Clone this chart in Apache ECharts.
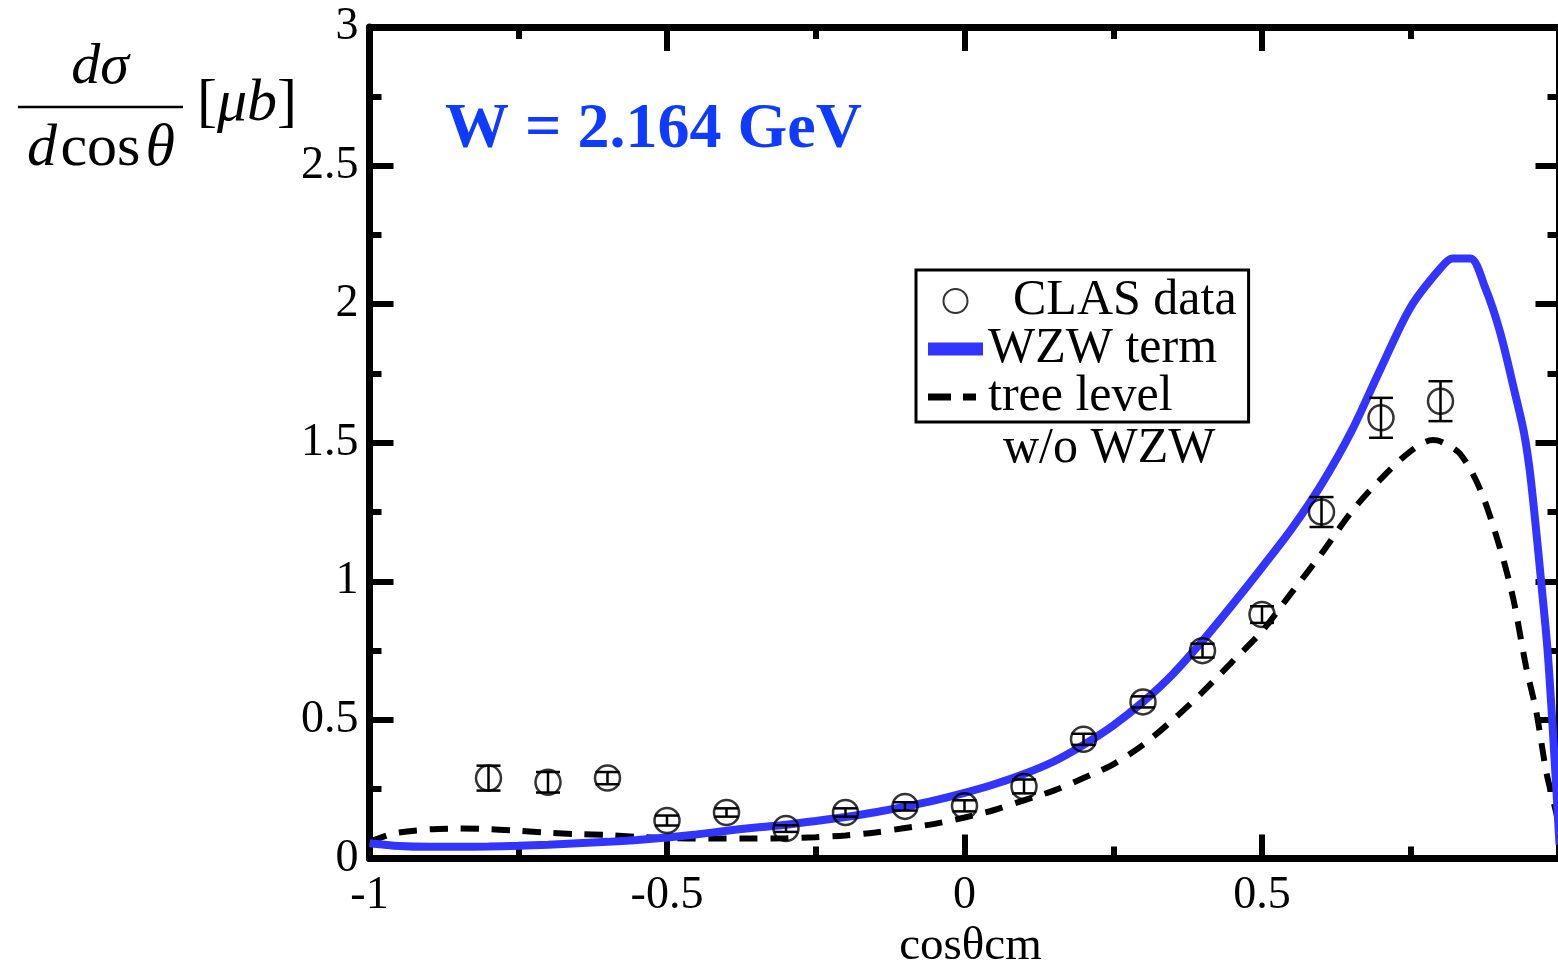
<!DOCTYPE html>
<html>
<head>
<meta charset="utf-8">
<script src="https://cdn.jsdelivr.net/npm/echarts@6/dist/echarts.min.js"></script>
<style>
  html, body { margin: 0; padding: 0; background: #fff; }
  #chart { width: 1558px; height: 960px; }
</style>
</head>
<body>
<div id="chart"></div>
<script>
// Differential cross section vs cos(theta_cm) at W = 2.164 GeV

// CLAS measurements: cos(theta), dsigma/dcos(theta) [ub], error
const clasX   = [-0.8, -0.7, -0.6, -0.5, -0.4, -0.3, -0.2, -0.1, 0.0, 0.1, 0.2, 0.3, 0.4, 0.5, 0.6, 0.7, 0.8];
const clasY   = [0.29, 0.275, 0.29, 0.137, 0.166, 0.108, 0.166, 0.188, 0.19, 0.26, 0.43, 0.565, 0.75, 0.88, 1.25, 1.59, 1.65];
const clasErr = [0.045, 0.037, 0.022, 0.018, 0.015, 0.012, 0.015, 0.015, 0.02, 0.025, 0.02, 0.02, 0.025, 0.03, 0.054, 0.072, 0.072];

// Model with WZW term
const wzwX = [-1.0, -0.95, -0.9, -0.85, -0.8, -0.75, -0.7, -0.65, -0.6, -0.55, -0.5, -0.45, -0.4, -0.35, -0.3, -0.25, -0.2, -0.15, -0.1, -0.05,
              0.0, 0.05, 0.1, 0.15, 0.2, 0.25, 0.3, 0.35, 0.4, 0.45, 0.5, 0.55, 0.6, 0.65, 0.7, 0.75, 0.8, 0.82, 0.85, 0.875, 0.9, 0.925, 0.94, 0.95, 0.96, 0.97, 0.98, 0.99, 1.0];
const wzwY = [0.055, 0.045, 0.042, 0.042, 0.043, 0.046, 0.05, 0.055, 0.06, 0.067, 0.076, 0.087, 0.1, 0.112, 0.122, 0.135, 0.15, 0.167, 0.187, 0.21,
              0.237, 0.268, 0.305, 0.35, 0.41, 0.48, 0.565, 0.665, 0.785, 0.915, 1.05, 1.19, 1.35, 1.54, 1.77, 1.99, 2.13, 2.165, 2.165, 2.06, 1.9, 1.68, 1.54, 1.40, 1.2, 0.98, 0.75, 0.42, 0.05];

// Tree level without WZW term
const treeX = [-1.0, -0.96, -0.9, -0.85, -0.8, -0.75, -0.7, -0.65, -0.6, -0.55, -0.5, -0.45, -0.4, -0.35, -0.3, -0.25, -0.2, -0.15, -0.1, -0.05,
               0.0, 0.05, 0.1, 0.15, 0.2, 0.25, 0.3, 0.35, 0.4, 0.45, 0.5, 0.55, 0.6, 0.65, 0.7, 0.75, 0.787, 0.8, 0.833, 0.867, 0.9, 0.922, 0.944, 0.961, 0.978, 0.995, 1.0];
const treeY = [0.06, 0.09, 0.105, 0.108, 0.106, 0.1, 0.093, 0.088, 0.085, 0.078, 0.074, 0.072, 0.072, 0.072, 0.073, 0.077, 0.083, 0.094, 0.11, 0.125,
               0.148, 0.175, 0.21, 0.245, 0.29, 0.34, 0.41, 0.5, 0.6, 0.71, 0.82, 0.96, 1.1, 1.25, 1.37, 1.47, 1.51, 1.505, 1.46, 1.33, 1.12, 0.94, 0.69, 0.53, 0.31, 0.16, 0.1];

const xTicks = [-1, -0.5, 0, 0.5, 1];
const yTicks = [0, 0.5, 1, 1.5, 2, 2.5, 3];

const SERIF = '"Liberation Serif", "DejaVu Serif", serif';
const BLUE = '#3434ff';

const zip = (xs, ys) => xs.map((x, i) => [x, ys[i]]);

const GRID = { left: 369.5, top: 27, width: 1190, height: 831.5, outerBoundsMode: 'none', containLabel: false };

const tickCommon = {
  axisLine: { show: true, onZero: false, lineStyle: { color: '#000', width: 7 } },
  axisTick: { show: true, inside: true, length: 24, lineStyle: { color: '#000', width: 6 } },
  minorTick: { show: true, splitNumber: 2, length: 12, lineStyle: { color: '#000', width: 6 } },
  splitLine: { show: false },
  minorSplitLine: { show: false }
};

// legend glyphs: solid bar for the WZW curve, two dashes for the tree-level curve
const BAR_ICON  = 'path://M0,0H55V13H0Z';
const DASH_ICON = 'path://M0,0H23V7H0Z M35,0H48V7H35Z M55,0 M55,7';

const chart = echarts.init(document.getElementById('chart'), null, { renderer: 'canvas' });

const option = {
  backgroundColor: '#fff',
  animation: false,
  grid: GRID,
  xAxis: [
    Object.assign({
      type: 'value', min: -1, max: 1, interval: 0.5, position: 'bottom',
      name: 'cosθcm', nameLocation: 'middle', nameGap: 46,
      nameTextStyle: { fontFamily: SERIF, fontSize: 47, color: '#000', padding: [0, 0, 0, 12] },
      axisLabel: {
        show: true, margin: 14, showMaxLabel: false,
        fontFamily: SERIF, fontSize: 46, color: '#000',
        formatter: v => xTicks.includes(v) ? String(v) : ''
      }
    }, tickCommon),
    Object.assign({
      type: 'value', min: -1, max: 1, interval: 0.5, position: 'top',
      axisLabel: { show: false }
    }, tickCommon)
  ],
  yAxis: [
    Object.assign({
      type: 'value', min: 0, max: 3, interval: 0.5, position: 'left',
      axisLabel: {
        show: true, margin: 11, fontFamily: SERIF, fontSize: 46, color: '#000',
        formatter: v => yTicks.includes(v) ? String(v) : ''
      }
    }, tickCommon),
    Object.assign({
      type: 'value', min: 0, max: 3, interval: 0.5, position: 'right',
      axisLabel: { show: false }
    }, tickCommon)
  ],
  legend: {
    left: 916, top: 270,
    orient: 'vertical',
    data: [
      { name: 'CLAS data' },
      { name: 'WZW term', icon: BAR_ICON, itemStyle: { color: BLUE } },
      { name: 'tree level', icon: DASH_ICON, itemStyle: { color: '#000' } }
    ],
    backgroundColor: '#fff',
    borderColor: '#000', borderWidth: 3, borderRadius: 0,
    padding: [6, 12, 0, 12],
    itemWidth: 55, itemHeight: 24, itemGap: -2, symbolKeepAspect: true,
    textStyle: { fontFamily: SERIF, fontSize: 50, color: '#000', lineHeight: 46 },
    formatter: name => name === 'CLAS data' ? '  ' + name : name,
    selectedMode: false
  },
  graphic: [
    // title
    {
      type: 'text', left: 445, top: 98, silent: true,
      style: { text: 'W = 2.164 GeV', fill: '#0f3bff', font: 'bold 64px ' + SERIF }
    },
    // y-axis label: dσ / d cosθ [μb]
    {
      type: 'text', x: 100, y: 68, silent: true,
      style: { text: 'dσ', fill: '#000', font: 'italic 58px ' + SERIF, textAlign: 'center', textVerticalAlign: 'middle' }
    },
    {
      type: 'line', silent: true,
      shape: { x1: 18, y1: 107, x2: 183, y2: 107 },
      style: { stroke: '#000', lineWidth: 2.5 }
    },
    {
      type: 'text', x: 101, y: 149, silent: true,
      style: {
        text: '{i|d} {r|cos}{s| }{i|θ}', textAlign: 'center', textVerticalAlign: 'middle',
        rich: {
          i: { fontFamily: SERIF, fontStyle: 'italic', fontSize: 60, fill: '#000' },
          r: { fontFamily: SERIF, fontSize: 60, fill: '#000' },
          s: { fontFamily: SERIF, fontSize: 20, fill: '#000' }
        }
      }
    },
    {
      type: 'text', x: 197, y: 104, silent: true,
      style: {
        text: '{r|[}{i|μb}{r|]}', textAlign: 'left', textVerticalAlign: 'middle',
        rich: {
          i: { fontFamily: SERIF, fontStyle: 'italic', fontSize: 60, fill: '#000' },
          r: { fontFamily: SERIF, fontSize: 60, fill: '#000' }
        }
      }
    },
    // second line of the tree-level legend entry
    {
      type: 'text', left: 1003, top: 424, silent: true, z: 100,
      style: { text: 'w/o WZW', fill: '#000', font: '50px ' + SERIF }
    }
  ],
  series: [
    {
      name: 'tree level', type: 'line', xAxisIndex: 0, yAxisIndex: 0,
      data: zip(treeX, treeY), symbol: 'none', smooth: 0.3, z: 3,
      lineStyle: { color: '#000', width: 6, type: [18, 13] },
      itemStyle: { color: '#000' }
    },
    {
      name: 'WZW term', type: 'line', xAxisIndex: 0, yAxisIndex: 0,
      data: zip(wzwX, wzwY), symbol: 'none', smooth: 0.3, z: 4,
      lineStyle: { color: BLUE, width: 8 },
      itemStyle: { color: BLUE }
    },
    {
      name: 'CLAS data', type: 'scatter', xAxisIndex: 0, yAxisIndex: 0,
      data: zip(clasX, clasY), symbol: 'circle', symbolSize: 25, z: 6,
      itemStyle: { color: 'rgba(255,255,255,0)', borderColor: '#000', borderWidth: 2.5 }
    },
    {
      name: 'CLAS errors', type: 'custom', xAxisIndex: 0, yAxisIndex: 0, z: 7,
      data: clasX.map((x, i) => [x, clasY[i], clasErr[i]]),
      renderItem: (params, api) => {
        const x = api.value(0), y = api.value(1), e = api.value(2);
        const top = api.coord([x, y + e]);
        const bot = api.coord([x, y - e]);
        const hw = 12;
        const st = { stroke: '#000', lineWidth: 2.5 };
        return {
          type: 'group',
          children: [
            { type: 'line', shape: { x1: top[0], y1: top[1], x2: bot[0], y2: bot[1] }, style: st },
            { type: 'line', shape: { x1: top[0] - hw, y1: top[1], x2: top[0] + hw, y2: top[1] }, style: st },
            { type: 'line', shape: { x1: bot[0] - hw, y1: bot[1], x2: bot[0] + hw, y2: bot[1] }, style: st }
          ]
        };
      }
    }
  ]
};

chart.setOption(option);
</script>
</body>
</html>
